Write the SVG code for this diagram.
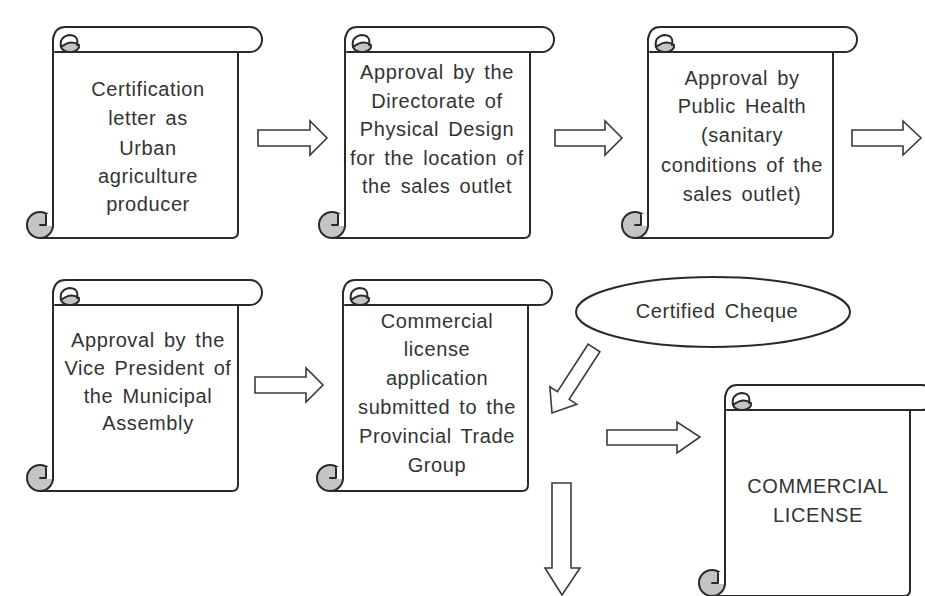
<svg xmlns="http://www.w3.org/2000/svg" xmlns:xlink="http://www.w3.org/1999/xlink" width="925" height="596" viewBox="0 0 925 596">
<style>
.ln{fill:none;stroke:#2a2a2a;stroke-width:2;stroke-linejoin:round;stroke-linecap:round}
.wf{fill:#fff;stroke:#2a2a2a;stroke-width:2;stroke-linejoin:round}
.gf{fill:#c4c4c4;stroke:#2a2a2a;stroke-width:2}
.arr{fill:#fff;stroke:#3a3a3a;stroke-width:1.6;stroke-linejoin:miter}
.t{font-family:"Liberation Sans",Arial,sans-serif;font-size:20px;fill:#333;text-anchor:middle;letter-spacing:0.6px;word-spacing:3px}
</style>
<defs>
<g id="scroll">
<rect x="0" y="12" width="185" height="199" fill="#fff"/>
<path class="ln" d="M185 25 V205 Q185 211 179 211 H-13"/>
<path class="ln" d="M0 12 V199"/>
<path class="wf" d="M2 25 H197 A12 12.5 0 0 0 197 0 H12 Q2 0 0 12"/>
<path class="gf" d="M8 20 A9 6 0 0 0 26 18 Q18 12 8 20 Z"/>
<path class="ln" d="M8 20 Q6 10 16 8 Q26 8 24 18"/>
<path class="ln" d="M10 25 H2"/>
<circle class="gf" cx="-13" cy="198" r="13"/>
<path d="M-7 187 H0 V199 H-7 Z" fill="#fff" stroke="none"/>
<path class="ln" d="M-7 188 V198 H-13"/>
<path class="ln" d="M0 12 V199"/>
</g>
</defs>
<rect width="925" height="596" fill="#fff"/>
<g id="connectors">
<polygon class="arr" points="258,130 310,130 310,121 327,138 310,155 310,146 258,146"/>
<polygon class="arr" points="555,130 605,130 605,121 622,138 605,155 605,146 555,146"/>
<polygon class="arr" points="852,130 903,130 903,121 921,138 903,155 903,146 852,146"/>
<polygon class="arr" points="255,377 306,377 306,368 323,385 306,402 306,393 255,393"/>
<polygon class="arr" points="607,430 677,430 677,422 700,437 677,453 677,445 607,445"/>
<polygon class="arr" points="552,483 571,483 571,568 580,568 562,595 545,568 552,568"/>
<polygon class="arr" points="588.1,344.2 557.4,391.7 549.9,386.8 552,413 576.7,404.2 569.2,399.3 599.9,351.8"/>
</g>
<g id="node-certification">
<use xlink:href="#scroll" x="53" y="27"/>
<text class="t" x="148" y="96">Certification</text>
<text class="t" x="148" y="125">letter as</text>
<text class="t" x="148" y="155">Urban</text>
<text class="t" x="148" y="183">agriculture</text>
<text class="t" x="148" y="211">producer</text>
</g>
<g id="node-physical-design">
<use xlink:href="#scroll" x="345" y="27"/>
<text class="t" x="437" y="79">Approval by the</text>
<text class="t" x="437" y="108">Directorate of</text>
<text class="t" x="437" y="136">Physical Design</text>
<text class="t" x="437" y="165">for the location of</text>
<text class="t" x="437" y="193">the sales outlet</text>
</g>
<g id="node-public-health">
<use xlink:href="#scroll" x="648" y="27"/>
<text class="t" x="742" y="85">Approval by</text>
<text class="t" x="742" y="113">Public Health</text>
<text class="t" x="742" y="142">(sanitary</text>
<text class="t" x="742" y="172">conditions of the</text>
<text class="t" x="742" y="201">sales outlet)</text>
</g>
<g id="node-vice-president">
<use xlink:href="#scroll" x="53" y="280"/>
<text class="t" x="148" y="347">Approval by the</text>
<text class="t" x="148" y="375">Vice President of</text>
<text class="t" x="148" y="403">the Municipal</text>
<text class="t" x="148" y="430">Assembly</text>
</g>
<g id="node-application">
<use xlink:href="#scroll" x="343" y="280"/>
<text class="t" x="437" y="328">Commercial</text>
<text class="t" x="437" y="356">license</text>
<text class="t" x="437" y="385">application</text>
<text class="t" x="437" y="414">submitted to the</text>
<text class="t" x="437" y="443">Provincial Trade</text>
<text class="t" x="437" y="472">Group</text>
</g>
<g id="node-cheque">
<ellipse cx="713" cy="312" rx="137" ry="35" fill="#fff" stroke="#2a2a2a" stroke-width="2"/>
<text class="t" x="717" y="318">Certified Cheque</text>
</g>
<g id="node-license">
<use xlink:href="#scroll" x="725" y="385"/>
<text class="t" x="818" y="493">COMMERCIAL</text>
<text class="t" x="818" y="522">LICENSE</text>
</g>
</svg>
